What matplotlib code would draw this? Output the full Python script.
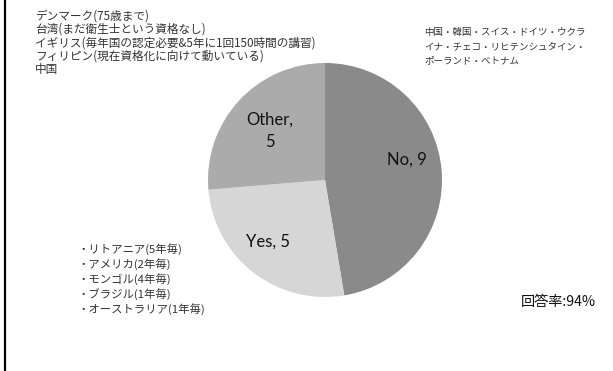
import matplotlib.pyplot as plt
from matplotlib.lines import Line2D

# data
labels = ["No", "Yes", "Other"]
values = [9, 5, 5]
colors = ["#8a8a8a", "#d6d6d6", "#ababab"]

yes_notes = ["・リトアニア(5年毎)", "・アメリカ(2年毎)", "・モンゴル(4年毎)",
             "・ブラジル(1年毎)", "・オーストラリア(1年毎)"]
other_notes = ["デンマーク(75歳まで)", "台湾(まだ衛生士という資格なし)",
               "イギリス(毎年国の認定必要&5年に1回150時間の講習)",
               "フィリピン(現在資格化に向けて動いている)", "中国"]
no_notes = ["中国・韓国・スイス・ドイツ・ウクラ", "イナ・チェコ・リヒテンシュタイン・",
            "ポーランド・ベトナム"]
response_rate = "回答率:94%"

W, H = 613, 371
fig = plt.figure(figsize=(W / 100, H / 100), dpi=100)
fig.patch.set_facecolor("white")

cx, cy, r = 325, 180, 117
ax = fig.add_axes([(cx - r) / W, (H - cy - r) / H, 2 * r / W, 2 * r / H])
ax.pie(values, colors=colors, startangle=90, counterclock=False, radius=1,
       wedgeprops=dict(linewidth=0))
ax.set_xlim(-1, 1)
ax.set_ylim(-1, 1)
ax.axis("off")

label_pos = {"No": (0.70, 0.17), "Yes": (-0.49, -0.53), "Other": (-0.47, 0.42)}
for lab, v in zip(labels, values):
    txt = f"{lab},\n{v}" if lab == "Other" else f"{lab}, {v}"
    ax.text(*label_pos[lab], txt, ha="center", va="center", fontsize=12,
            family="Lato", color="#111111", linespacing=1.45)

cjk = ["Noto Sans CJK JP", "DejaVu Sans"]
for i, s in enumerate(other_notes):
    fig.text(35 / W, 1 - (16 + i * 13.3) / H, s, fontsize=8.4, family=cjk,
             color="#333333", va="center", ha="left")
for i, s in enumerate(no_notes):
    fig.text(424 / W, 1 - (33 + i * 14) / H, s, fontsize=6.85, family=cjk,
             color="#333333", va="center", ha="left")
for i, s in enumerate(yes_notes):
    fig.text(78 / W, 1 - (249 + i * 15) / H, s, fontsize=8.2, family=cjk,
             color="#333333", va="center", ha="left")
fig.text(521 / W, 1 - 302 / H, response_rate, fontsize=10.2, family=cjk,
         color="#111111", va="center", ha="left")

fig.add_artist(Line2D([4.5 / W, 4.5 / W], [0, 1], color="black", linewidth=1.6,
                      transform=fig.transFigure))

fig.savefig("out.png", dpi=100, facecolor="white")
